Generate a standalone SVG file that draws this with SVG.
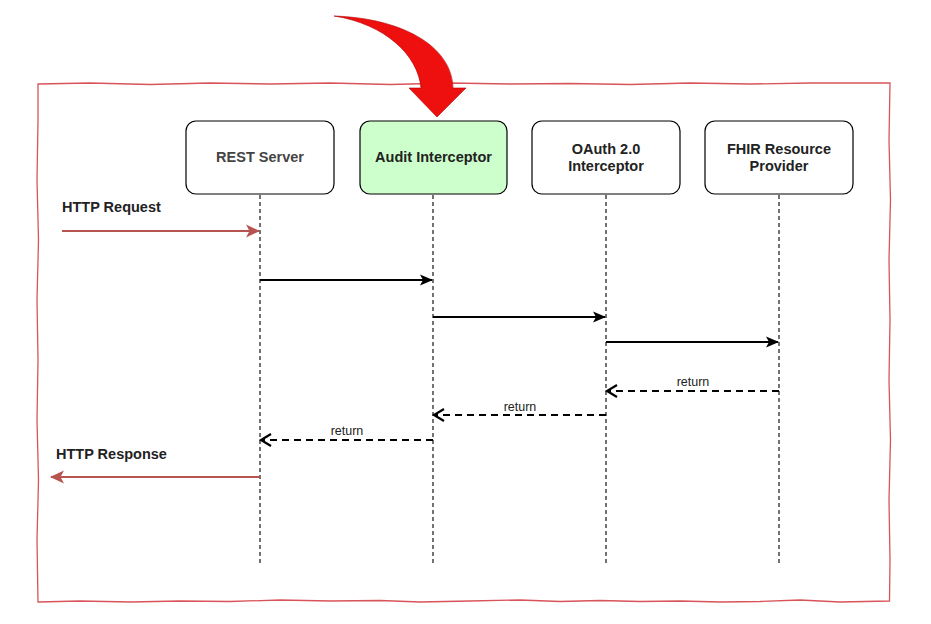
<svg xmlns="http://www.w3.org/2000/svg" width="931" height="624" viewBox="0 0 931 624">
<style>
.node rect{fill:#fff;stroke:#000;stroke-width:1.2}
.lbl{font-family:"Liberation Sans",Arial,sans-serif;font-weight:bold;font-size:14.5px;fill:#222;text-anchor:middle}
.ext{font-family:"Liberation Sans",Arial,sans-serif;font-weight:bold;font-size:14.5px;fill:#222}
.ret{font-family:"Liberation Sans",Arial,sans-serif;font-size:12.5px;fill:#222;text-anchor:middle}
.life{stroke:#000;stroke-width:1.1;stroke-dasharray:4 3}
.call{stroke:#000;stroke-width:2;fill:none}
.back{stroke:#000;stroke-width:2;fill:none;stroke-dasharray:7 5}
.http{stroke:#b85450;stroke-width:2;fill:none}
</style>
<defs>
<marker id="ah" markerWidth="14" markerHeight="14" refX="12" refY="7" orient="auto" markerUnits="userSpaceOnUse">
<path d="M0,1.5 L13,7 L0,12.5 L3,7 Z" fill="#000"/>
</marker>
<marker id="ao" markerWidth="14" markerHeight="14" refX="11" refY="7" orient="auto" markerUnits="userSpaceOnUse">
<path d="M1,1 L11,7 L1,13" fill="none" stroke="#000" stroke-width="2.2"/>
</marker>
<marker id="ar" markerWidth="16" markerHeight="16" refX="13" refY="8" orient="auto" markerUnits="userSpaceOnUse">
<path d="M0,1.5 L14,8 L0,14.5 L3.5,8 Z" fill="#b85450"/>
</marker>
</defs>
<rect width="931" height="624" fill="#fff"/>
<g id="frame">
<path d="M38,84 L90,83 L150,84.5 L210,83 L270,84 L330,83 L390,84.5 L450,83 L510,84 L570,83.5 L630,84.5 L690,83 L750,84 L810,83 L890,83 L889,140 L890.5,200 L889,260 L890,320 L889,380 L890.5,440 L889,500 L890,560 L889.5,601 L840,602 L800,600 L760,601.5 L720,602 L680,601 L640,601.5 L600,600.5 L560,601.5 L520,600 L470,601 L420,602 L380,600.5 L330,601 L280,600 L230,601.5 L180,601 L130,602 L80,601 L38,602 L37,540 L38.5,480 L37,420 L38,360 L37,300 L38.5,240 L37,180 L38,120 Z" fill="none" stroke="#d9545a" stroke-width="1.3"/>
</g>
<g id="bigarrow">
<path d="M334,16 C400,18 452,45 453,88 L466,88 L437,117 L409,88 L421,88 C418,55 385,24 334,16 Z" fill="#ee0f0f" stroke="#b00000" stroke-width="0.6"/>
</g>
<g id="connectors">
<line class="life" x1="260" y1="195" x2="260" y2="565"/>
<line class="life" x1="433" y1="195" x2="433" y2="565"/>
<line class="life" x1="606" y1="195" x2="606" y2="565"/>
<line class="life" x1="779" y1="195" x2="779" y2="565"/>
<line class="http" x1="62" y1="231" x2="259" y2="231" marker-end="url(#ar)"/>
<line class="call" x1="260" y1="280" x2="432" y2="280" marker-end="url(#ah)"/>
<line class="call" x1="433" y1="317" x2="605" y2="317" marker-end="url(#ah)"/>
<line class="call" x1="606" y1="342" x2="778" y2="342" marker-end="url(#ah)"/>
<line class="back" x1="779" y1="391" x2="607" y2="391" marker-end="url(#ao)"/>
<line class="back" x1="606" y1="415" x2="434" y2="415" marker-end="url(#ao)"/>
<line class="back" x1="433" y1="440" x2="261" y2="440" marker-end="url(#ao)"/>
<line class="http" x1="260" y1="477" x2="51" y2="477" marker-end="url(#ar)"/>
<text class="ext" x="62" y="212">HTTP Request</text>
<text class="ext" x="56" y="459">HTTP Response</text>
<text class="ret" x="693" y="386">return</text>
<text class="ret" x="520" y="411">return</text>
<text class="ret" x="347" y="435">return</text>
</g>
<g id="rest" class="node">
<rect x="186" y="121" width="148" height="73" rx="10"/>
<text class="lbl" x="260" y="162" style="fill:#444">REST Server</text>
</g>
<g id="audit" class="node">
<rect x="360" y="121" width="147" height="73" rx="10" style="fill:#ccffcc"/>
<text class="lbl" x="433.5" y="162">Audit Interceptor</text>
</g>
<g id="oauth" class="node">
<rect x="532" y="121" width="148" height="73" rx="10"/>
<text class="lbl" x="606" y="154">OAuth 2.0</text>
<text class="lbl" x="606" y="171">Interceptor</text>
</g>
<g id="fhir" class="node">
<rect x="705" y="121" width="148" height="73" rx="10"/>
<text class="lbl" x="779" y="154">FHIR Resource</text>
<text class="lbl" x="779" y="171">Provider</text>
</g>
</svg>
